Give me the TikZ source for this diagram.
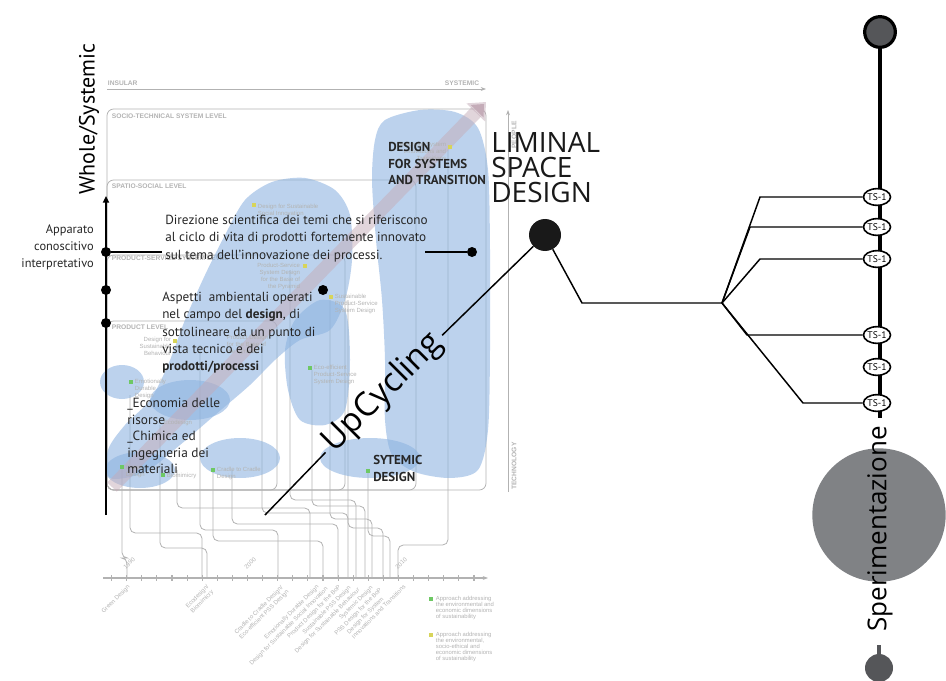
\documentclass[tikz,border=0pt]{standalone}
\usepackage{fontspec}
\setmainfont{PT Sans}
\newfontfamily\thinsans{Open Sans}
\newfontfamily\chartfont{Liberation Sans}
\usetikzlibrary{shapes.geometric, arrows.meta, positioning, calc}

\definecolor{blobblue}{RGB}{140,178,224}
\definecolor{bandpink}{RGB}{196,172,184}
\definecolor{fadegray}{RGB}{178,178,178}
\definecolor{darkdot}{RGB}{85,86,89}
\definecolor{bigdot}{RGB}{128,130,133}
\definecolor{sqgreen}{RGB}{110,200,100}
\definecolor{sqyellow}{RGB}{215,212,90}

\begin{document}
\begin{tikzpicture}[
    x=0.75pt, y=-0.75pt,
    >={Stealth},
    fade/.style={draw=fadegray, line width=0.6pt},
    levelbox/.style={fade, rounded corners=5pt},
    lvl/.style={text=fadegray, font=\chartfont\fontsize{5}{5.5}\selectfont\bfseries, inner sep=0.5pt},
    tiny/.style={text=fadegray, font=\chartfont\fontsize{4.5}{5.2}\selectfont, inner sep=0.5pt, align=left},
    legend/.style={tiny, font=\chartfont\fontsize{4.4}{4.6}\selectfont},
    blob/.style={fill=blobblue, fill opacity=0.58},
    band/.style={draw=bandpink, draw opacity=0.5, line width=10pt, -{Triangle[length=11pt, width=19pt]}},
    body/.style={font=\fontsize{9.9}{12.9}\selectfont, align=left, inner sep=0pt, anchor=north west, text=black!85},
    caps/.style={font=\fontsize{9.7}{12.4}\selectfont\bfseries, align=left, inner sep=0pt, anchor=north west, text=black!85},
    big/.style={font=\thinsans\fontsize{21}{18.8}\selectfont, align=left, inner sep=0pt, anchor=north west, text=black!90},
    dot/.style={circle, fill=black, inner sep=0pt, minimum size=7.5pt},
    bar/.style={line width=2.2pt},
    wire/.style={line width=1.1pt},
    spine/.style={line width=3pt},
    tsnode/.style={ellipse, draw, line width=1.2pt, fill=white, minimum width=18.5pt, minimum height=12.5pt, inner sep=0pt, font=\fontsize{7.2}{7.2}\selectfont}
  ]
  \useasboundingbox (0,0) rectangle (946,681);

  % faded chart in the background
  \node[lvl, anchor=south west] (insular) at (107,87) {INSULAR};
  \node[lvl, anchor=south east] (systemic) at (480,87) {SYSTEMIC};
  \draw[fade, -{Stealth[length=4pt]}] (107,89) -- (486,89);
  \draw[levelbox] (107,109) rectangle (486,490);
  \draw[levelbox] (107,180) rectangle (416,490);
  \draw[levelbox] (107,255) rectangle (345,490);
  \draw[levelbox] (107,321) rectangle (277,490);
  \node[lvl, anchor=west] (lvsoc) at (111,116) {SOCIO-TECHNICAL SYSTEM LEVEL};
  \node[lvl, anchor=west] (lvspa) at (111,186) {SPATIO-SOCIAL LEVEL};
  \node[lvl, anchor=west] (lvpss) at (111,258) {PRODUCT-SERVICE SYSTEM LEVEL};
  \node[lvl, anchor=west] (lvpro) at (111,327) {PRODUCT LEVEL};
  \draw[fade, -{Stealth[length=4pt]}] (508,492) -- (508,110);
  \node[lvl, rotate=90] (tech) at (514,466) {TECHNOLOGY};
  \node[lvl, rotate=90] (people) at (514,135) {PEOPLE};

  \foreach \xa/\ya/\yj/\xb in {122/465/558/127, 130/395/533/202, 160/425/548/207,
      177/470/508/310, 200/345/530/278, 213/470/541/323, 232/470/524/338,
      262/345/513/348, 290/270/500/356, 312/370/506/365, 330/300/519/372,
      348/300/528/383, 368/470/536/390, 448/150/545/398}
    \draw[fade, rounded corners=4pt] (\xa,\ya) -- (\xa,\yj) -- (\xb,\yj) -- (\xb,578);

  % time line
  \draw[fade, line width=0.8pt, -{Stealth[length=4pt]}] (103,578) -- (488,578);
  \foreach \k in {0,...,24}
    \draw[fade, line width=0.8pt] ({111.6+15.1*\k},575) -- ++(0,6);
  \node[tiny, rotate=45, anchor=south west] (y1990) at (126,571) {1990};
  \node[tiny, rotate=45, anchor=south west] (y2000) at (247,571) {2000};
  \node[tiny, rotate=45, anchor=south west] (y2010) at (398,571) {2010};

  \node[tiny, rotate=45, anchor=north east] (tgd) at (127,583) {Green Design};
  \node[tiny, rotate=45, anchor=north east] (teco) at (206,583) {Ecodesign/\\Biomimicry};
  \node[tiny, rotate=45, anchor=north east] (tc2c) at (281,583) {Cradle to Cradle Design/\\Eco-efficient PSS Design};
  \node[tiny, rotate=45, anchor=north east] (tedd) at (316,583) {Emotionally Durable Design};
  \node[tiny, rotate=45, anchor=north east] (tssi) at (325,585) {Design for Sustainable Social Innovation};
  \node[tiny, rotate=45, anchor=north east] (tpbop) at (338,583) {Product Design for the BoP};
  \node[tiny, rotate=45, anchor=north east] (tspss) at (348,584) {Sustainable PSS Design};
  \node[tiny, rotate=45, anchor=north east] (tdsb) at (357,586) {Design for Sustainable Behaviour};
  \node[tiny, rotate=45, anchor=north east] (tsd) at (370,584) {Systemic Design};
  \node[tiny, rotate=45, anchor=north east] (tpssb) at (379,586) {PSS Design for the BoP};
  \node[tiny, rotate=45, anchor=north east] (tdsit) at (398,578) {Design for System\\Innovations and Transitions};

  \fill[sqgreen] (429,597) rectangle (433,601);
  \node[legend, anchor=north west] (leg1) at (435,595) {Approach addressing\\the environmental and\\economic dimensions\\of sustainability};
  \fill[sqyellow] (429,633) rectangle (433,637);
  \node[legend, anchor=north west] (leg2) at (435,631) {Approach addressing\\the environmental,\\socio-ethical and\\economic dimensions\\of sustainability};

  % blue areas
  \fill[blob] plot[smooth cycle] coordinates {(110,478) (108,450) (125,425) (150,400) (168,365)
      (185,320) (205,275) (225,235) (245,200) (272,182) (305,178) (335,190) (350,215)
      (352,260) (345,300) (330,330) (300,340) (275,360) (250,385) (215,415) (180,445) (145,472)};
  \fill[blob] plot[smooth cycle] coordinates {(295,320) (320,300) (345,310) (350,360)
      (345,410) (325,425) (300,420) (288,390) (285,350)};
  \fill[blob] plot[smooth cycle] coordinates {(385,120) (420,110) (455,112) (478,128)
      (488,170) (490,250) (490,350) (488,430) (478,470) (450,478) (415,472) (392,455)
      (385,420) (385,360) (382,300) (376,240) (372,180) (375,140)};
  \fill[blob] (370,458) ellipse [x radius=50, y radius=20];
  \fill[blob] (240,458) ellipse [x radius=40, y radius=20];
  \fill[blob] (122,382) ellipse [x radius=22, y radius=17];
  \fill[blob] (190,400) ellipse [x radius=40, y radius=20];
  \fill[blob] (140,470) ellipse [x radius=35, y radius=18];

  \draw[band] (112,487) -- (486,102);

  % approach labels of the chart
  \fill[sqyellow] (252,203) rectangle (256,207);
  \node[tiny, anchor=north west] (ssi) at (257,203) {Design for Sustainable\\Social Innovation};
  \fill[sqyellow] (303,264) rectangle (307,268);
  \node[tiny, anchor=north east, align=right] (bop) at (301,262) {Product-Service\\System Design\\for the Base of\\the Pyramid};
  \fill[sqyellow] (329,295) rectangle (333,299);
  \node[tiny, anchor=north west] (spss) at (334,293) {Sustainable\\Product-Service\\System Design};
  \fill[sqgreen] (308,366) rectangle (312,370);
  \node[tiny, anchor=north west] (epss) at (313,364) {Eco-efficient\\Product-Service\\System Design};
  \fill[sqyellow] (173,339) rectangle (177,343);
  \node[tiny, anchor=north east, align=right] (dsb) at (172,336) {Design for\\Sustainable\\Behaviour};
  \node[tiny, anchor=north west] (pbop) at (226,334) {Product Design\\for the Base of\\the Pyramid};
  \fill[sqgreen] (129,380) rectangle (133,384);
  \node[tiny, anchor=north west] (edd) at (134,378) {Emotionally\\Durable\\Design};
  \node[tiny, anchor=west] (eco) at (163,423) {Ecodesign};
  \fill[sqgreen] (120,465) rectangle (124,469);
  \node[tiny, anchor=north west] (gd) at (125,464) {Green\\Design};
  \fill[sqgreen] (161,473) rectangle (165,477);
  \node[tiny, anchor=west] (bio) at (166,476) {Biomimicry};
  \fill[sqgreen] (211,468) rectangle (215,472);
  \node[tiny, anchor=north west] (c2c) at (216,466) {Cradle to Cradle\\Design};
  \fill[sqgreen] (366,469) rectangle (370,473);
  \fill[sqyellow] (448,145) rectangle (452,149);
  \node[tiny, anchor=north east, align=right] (dsit) at (447,141) {Design for System\\Innovations and\\Transitions};

  % overlay texts
  \node[font=\fontsize{16.5}{16.5}\selectfont, rotate=90, inner sep=0pt] (whole) at (89,119) {Whole/Systemic};
  \node[body, anchor=north east, align=right, font=\fontsize{9.3}{12.8}\selectfont] (appar) at (94,224) {Apparato\\conoscitivo\\interpretativo};
  \node[body] (direz) at (165,215) {Direzione scientifica dei temi che si riferiscono\\al ciclo di vita di prodotti fortemente innovato\\sul tema dell’innovazione dei processi.};
  \node[body] (aspetti) at (162,292) {Aspetti\ \ ambientali operati\\nel campo del \textbf{design}, di\\sottolineare da un punto di\\vista tecnico e dei\\\textbf{prodotti/processi}};
  \node[body, font=\fontsize{10}{12.4}\selectfont] (risorse) at (127,398) {\_Economia delle\\risorse\\\_Chimica ed\\ingegneria dei\\materiali};
  \node[caps] (dst) at (388,142) {DESIGN\\FOR SYSTEMS\\AND TRANSITION};
  \node[caps] (sysd) at (373,455) {SYTEMIC\\DESIGN};
  \node[big] (liminal) at (491,132) {LIMINAL\\SPACE\\DESIGN};

  % left axis
  \coordinate (axbot) at (106,515);
  \coordinate (axtop) at (106,196);
  \draw[line width=1.5pt, -{Triangle[length=5pt, width=4.5pt]}] (axbot) -- (axtop);
  \node[dot] (dotA) at (106,252) {};
  \node[dot] (dotB) at (106,290) {};
  \node[dot] (dotC) at (106,323) {};
  \coordinate (dirstart) at (162,252);
  \draw[bar] (dotA) -- (dirstart);
  \node[dot] (dotR) at (472,252) {};
  \coordinate (dirend) at (425,252);
  \draw[bar] (dirend) -- (dotR);
  \node[dot] (dotM) at (323,290) {};

  % UpCycling and liminal space
  \node[circle, fill=black!90, inner sep=0pt, minimum size=24pt] (lsdot) at (545,235) {};
  \coordinate (upstart) at (265,515);
  \node[font=\thinsans\fontsize{25}{25}\selectfont, rotate=45, inner sep=4pt] (upcyc) at (383,393) {UpCycling};
  \draw[wire] (upstart) -- (upcyc) -- (lsdot);

  % right time line
  \node[circle, draw=black, line width=2.4pt, fill=darkdot, inner sep=0pt, minimum size=23pt] (topdot) at (880,32) {};
  \coordinate (spineend) at (880,418);
  \draw[spine] (topdot) -- (spineend);
  \coordinate (elbow) at (582,303);
  \coordinate (hub) at (722,303);
  \draw[wire] (lsdot) -- (elbow) -- (hub);
  \foreach \n/\y in {1/197, 2/227, 3/259, 4/335, 5/367, 6/403}
    \node[tsnode] (ts\n) at (877,\y) {TS-1};
  \foreach \n/\x/\y in {1/760/197, 2/750/227, 3/760/259, 4/747/335, 6/803/403}
    \draw[wire] (hub) -- (\x,\y) -- (ts\n);

  \node[circle, fill=bigdot, inner sep=0pt, minimum size=100pt] (labdot) at (879,515) {};
  \node[font=\thinsans\fontsize{19.5}{19.5}\selectfont, rotate=90, inner sep=0pt] (sper) at (880,529) {Sperimentazione};
  \coordinate (stub) at (879,645);
  \node[circle, fill=darkdot, inner sep=0pt, minimum size=21pt] (enddot) at (879,668) {};
  \draw[darkdot, line width=2.6pt] (stub) -- (enddot);
\end{tikzpicture}
\end{document}
